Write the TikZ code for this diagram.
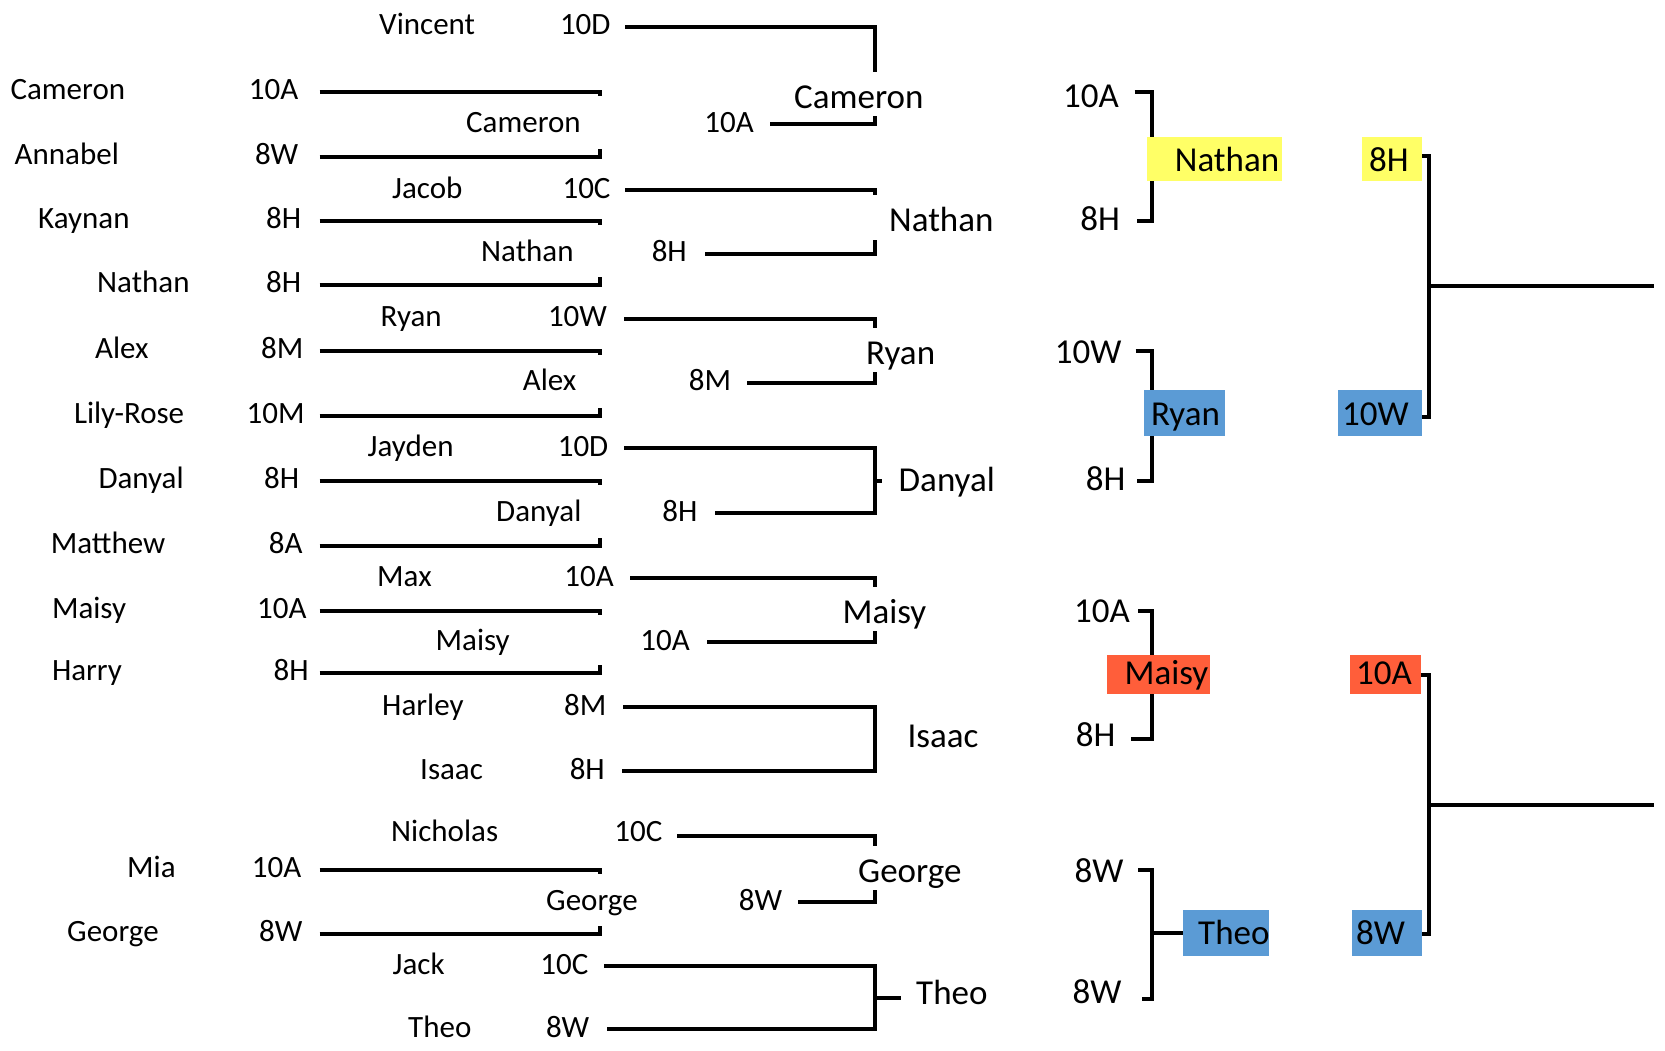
\documentclass[tikz,border=0pt]{standalone}
\usepackage{fontspec}
\setmainfont{Carlito}
\usetikzlibrary{backgrounds}
\definecolor{hlyellow}{HTML}{FFFF66}
\definecolor{hlblue}{HTML}{5B9BD5}
\definecolor{hlred}{HTML}{FF5E3A}
\begin{document}
\begin{tikzpicture}[x=1pt,y=-1pt,
  sm/.style={font=\fontsize{31}{37}\selectfont, inner sep=0pt},
  lg/.style={font=\fontsize{35}{42}\selectfont, inner sep=0pt},
  nm/.style={sm, anchor=base west},
  cl/.style={sm, anchor=base east},
  win/.style={lg, anchor=base west},
  winw/.style={lg, anchor=base west, fill=white, inner xsep=18pt, inner ysep=0pt, text height=36.5pt, text depth=8pt},
  clb/.style={lg, anchor=base east},
  hbox/.style={inner sep=0pt, anchor=north west},
  ln/.style={line width=4pt, line cap=butt, line join=miter}]
\useasboundingbox (0,0) rectangle (1665,1051);

% ---------- round 1 ----------
\node[nm] (n01) at (10.4,100)   {Cameron};   \node[cl] (c01) at (298.5,100)   {10A};
\node[nm] (n02) at (14.5,164.5) {Annabel};   \node[cl] (c02) at (298.5,164.5) {8W};
\node[nm] (n03) at (38,228.5)   {Kaynan};    \node[cl] (c03) at (301.4,228.5) {8H};
\node[nm] (n04) at (97,292.8)   {Nathan};    \node[cl] (c04) at (301.4,292.8) {8H};
\node[nm] (n05) at (95,358.5)   {Alex};      \node[cl] (c05) at (303.5,358.5) {8M};
\node[nm] (n06) at (73.8,423)   {Lily-Rose}; \node[cl] (c06) at (304.7,423)   {10M};
\node[nm] (n07) at (98.3,488.8) {Danyal};    \node[cl] (c07) at (299.3,488.8) {8H};
\node[nm] (n08) at (50.6,553)   {Matthew};   \node[cl] (c08) at (302.7,553)   {8A};
\node[nm] (n09) at (51.8,618)   {Maisy};     \node[cl] (c09) at (306.8,618)   {10A};
\node[nm] (n10) at (51.8,680.5) {Harry};     \node[cl] (c10) at (308.9,680.5) {8H};
\node[nm] (n11) at (127,877.3)  {Mia};       \node[cl] (c11) at (301.4,877.3) {10A};
\node[nm] (n12) at (67,941.5)   {George};    \node[cl] (c12) at (302.7,941.5) {8W};

% ---------- round 2 ----------
\node[nm] (m01) at (379,34.6)    {Vincent};  \node[cl] (d01) at (610.7,34.6)  {10D};
\node[nm] (m02) at (466,132.5)   {Cameron};  \node[cl] (d02) at (754,132.5)   {10A};
\node[nm] (m03) at (392,198.5)   {Jacob};    \node[cl] (d03) at (610.7,198.5) {10C};
\node[nm] (m04) at (481,261.5)   {Nathan};   \node[cl] (d04) at (687,261.5)   {8H};
\node[nm] (m05) at (380.5,326.5) {Ryan};     \node[cl] (d05) at (607.2,326.5) {10W};
\node[nm] (m06) at (522.7,390.5) {Alex};     \node[cl] (d06) at (731.3,390.5) {8M};
\node[nm] (m07) at (367.5,456.3) {Jayden};   \node[cl] (d07) at (608.5,456.3) {10D};
\node[nm] (m08) at (496,521)     {Danyal};   \node[cl] (d08) at (697.7,521)   {8H};
\node[nm] (m09) at (377,586)     {Max};      \node[cl] (d09) at (614,586)     {10A};
\node[nm] (m10) at (435.5,650)   {Maisy};    \node[cl] (d10) at (690,650)     {10A};
\node[nm] (m11) at (382,715)     {Harley};   \node[cl] (d11) at (606.5,715)   {8M};
\node[nm] (m12) at (420,779)     {Isaac};    \node[cl] (d12) at (605,779)     {8H};
\node[nm] (m13) at (391,841)     {Nicholas}; \node[cl] (d13) at (662.6,841)   {10C};
\node[nm] (m14) at (546,910)     {George};   \node[cl] (d14) at (782.3,910)   {8W};
\node[nm] (m15) at (392.5,974)   {Jack};     \node[cl] (d15) at (588.5,974)   {10C};
\node[nm] (m16) at (408,1037)    {Theo};     \node[cl] (d16) at (589.5,1037)  {8W};

% ---------- round 3 winners ----------
\node[winw] (w1) at (776,108.3)   {Cameron};
\node[winw] (w2) at (871,231.5)   {Nathan};
\node[winw] (w3) at (848,364)     {Ryan};
\node[win]  (w4) at (898.5,491)   {Danyal};
\node[winw] (w5) at (824.5,623)   {Maisy};
\node[win]  (w6) at (907.4,747)   {Isaac};
\node[winw] (w7) at (840,882)     {George};
\node[win]  (w8) at (916,1004)    {Theo};

% ---------- round 3 classes ----------
\node[clb] (e1) at (1119,107.5)  {10A};
\node[clb] (e2) at (1120,230)    {8H};
\node[clb] (e3) at (1121.7,363.3) {10W};
\node[clb] (e4) at (1125.7,490)  {8H};
\node[clb] (e5) at (1130,622)    {10A};
\node[clb] (e6) at (1115.7,746)  {8H};
\node[clb] (e7) at (1123.7,882)  {8W};
\node[clb] (e8) at (1121.7,1003) {8W};

% ---------- highlighted boxes ----------
\node[hbox, fill=hlyellow, minimum width=135.2pt, minimum height=44.3pt] (bx1) at (1146.8,136.7) {};
\node[hbox, fill=hlyellow, minimum width=59.8pt,  minimum height=44.3pt] (bx2) at (1362,136.7) {};
\node[hbox, fill=hlblue,   minimum width=80.4pt,  minimum height=45.7pt] (bx3) at (1144,390) {};
\node[hbox, fill=hlblue,   minimum width=83.8pt,  minimum height=45.7pt] (bx4) at (1338,390) {};
\node[hbox, fill=hlred,    minimum width=103pt,   minimum height=39pt]   (bx5) at (1106.5,655) {};
\node[hbox, fill=hlred,    minimum width=71pt,    minimum height=39pt]   (bx6) at (1350,655) {};
\node[hbox, fill=hlblue,   minimum width=86pt,    minimum height=45.6pt] (bx7) at (1183,910) {};
\node[hbox, fill=hlblue,   minimum width=69.8pt,  minimum height=45.6pt] (bx8) at (1352,910) {};

\node[win] (t1) at (1174.7,171.7) {Nathan};
\node[win] (t2) at (1368.8,171.7) {8H};
\node[win] (t3) at (1150.8,425)   {Ryan};
\node[win] (t4) at (1342,425)     {10W};
\node[win] (t5) at (1124.5,684.5) {Maisy};
\node[win] (t6) at (1356,684.5)   {10A};
\node[win] (t7) at (1198,944)     {Theo};
\node[win] (t8) at (1356,944)     {8W};

% ---------- connectors ----------
\begin{scope}[on background layer]
\fill[white] (0,0) rectangle (1665,1051);
% round 1 stubs
\foreach \i/\y/\t in {01/92.5/4, 02/157/-8, 03/221/4, 04/285.3/-8, 05/351/4, 06/415.5/-8,
                      07/481.3/4, 08/545.5/-8, 09/610.5/4, 10/673/-8, 11/869.8/4, 12/934/-8}{
  \coordinate (a\i s) at (319.5,\y);
  \coordinate (a\i e) at (599.5,\y);
  \draw[ln] (a\i s) -- (a\i e) -- ++(0,\t);
}
% round 2 brackets
\foreach \i/\x/\y in {01/625/26.6, 02/770/124.5, 03/625/190.5, 04/705/253.5,
                      05/624/318.5, 06/747/382.5, 07/624/448.3, 08/714.5/513,
                      09/630/578, 10/706.5/642, 11/623.4/707, 12/621.5/771,
                      13/677/836, 14/798/902, 15/604/966, 16/607/1029}{
  \coordinate (s\i) at (\x,\y);
  \coordinate (k\i) at (875,\y);
}
\draw[ln] (s01) -- (k01) -- (k02) -- (s02);
\draw[ln] (s03) -- (k03) -- (k04) -- (s04);
\draw[ln] (s05) -- (k05) -- (k06) -- (s06);
\draw[ln] (s07) -- (k07) -- (k08) -- (s08);
\draw[ln] (s09) -- (k09) -- (k10) -- (s10);
\draw[ln] (s11) -- (k11) -- (k12) -- (s12);
\draw[ln] (s13) -- (k13) -- (k14) -- (s14);
\draw[ln] (s15) -- (k15) -- (k16) -- (s16);
\coordinate (tkD) at (875,480.6);
\coordinate (tkDe) at (882,480.6);
\coordinate (tkT) at (875,997.5);
\coordinate (tkTe) at (900.5,997.5);
\draw[ln] (tkD) -- (tkDe);
\draw[ln] (tkT) -- (tkTe);
% round 3 brackets
\foreach \i/\x/\y in {1/1134.5/91.7, 2/1137/220.7, 3/1135.7/350.7, 4/1137/480.7,
                      5/1138/610.6, 6/1131/738.5, 7/1138.4/869.5, 8/1141.6/999}{
  \coordinate (r\i) at (\x,\y);
  \coordinate (q\i) at (1152,\y);
}
\draw[ln] (r1) -- (q1) -- (q2) -- (r2);
\draw[ln] (r3) -- (q3) -- (q4) -- (r4);
\draw[ln] (r5) -- (q5) -- (q6) -- (r6);
\draw[ln] (r7) -- (q7) -- (q8) -- (r8);
\coordinate (qT) at (1152,933);
\draw[ln] (qT) -- (qT -| bx7.west);
% round 4 brackets
\coordinate (p1) at (1428.6,156);
\coordinate (p2) at (1428.6,416.7);
\coordinate (p3) at (1428.6,675.3);
\coordinate (p4) at (1428.6,934);
\coordinate (f1) at (1654,286.4);
\coordinate (f2) at (1654,804.7);
\draw[ln] (p1 -| bx2.east) -- (p1) -- (p2) -- (p2 -| bx4.east);
\draw[ln] (p3 -| bx6.east) -- (p3) -- (p4) -- (p4 -| bx8.east);
\draw[ln] (p1 |- f1) -- (f1);
\draw[ln] (p3 |- f2) -- (f2);
\end{scope}
\end{tikzpicture}
\end{document}
